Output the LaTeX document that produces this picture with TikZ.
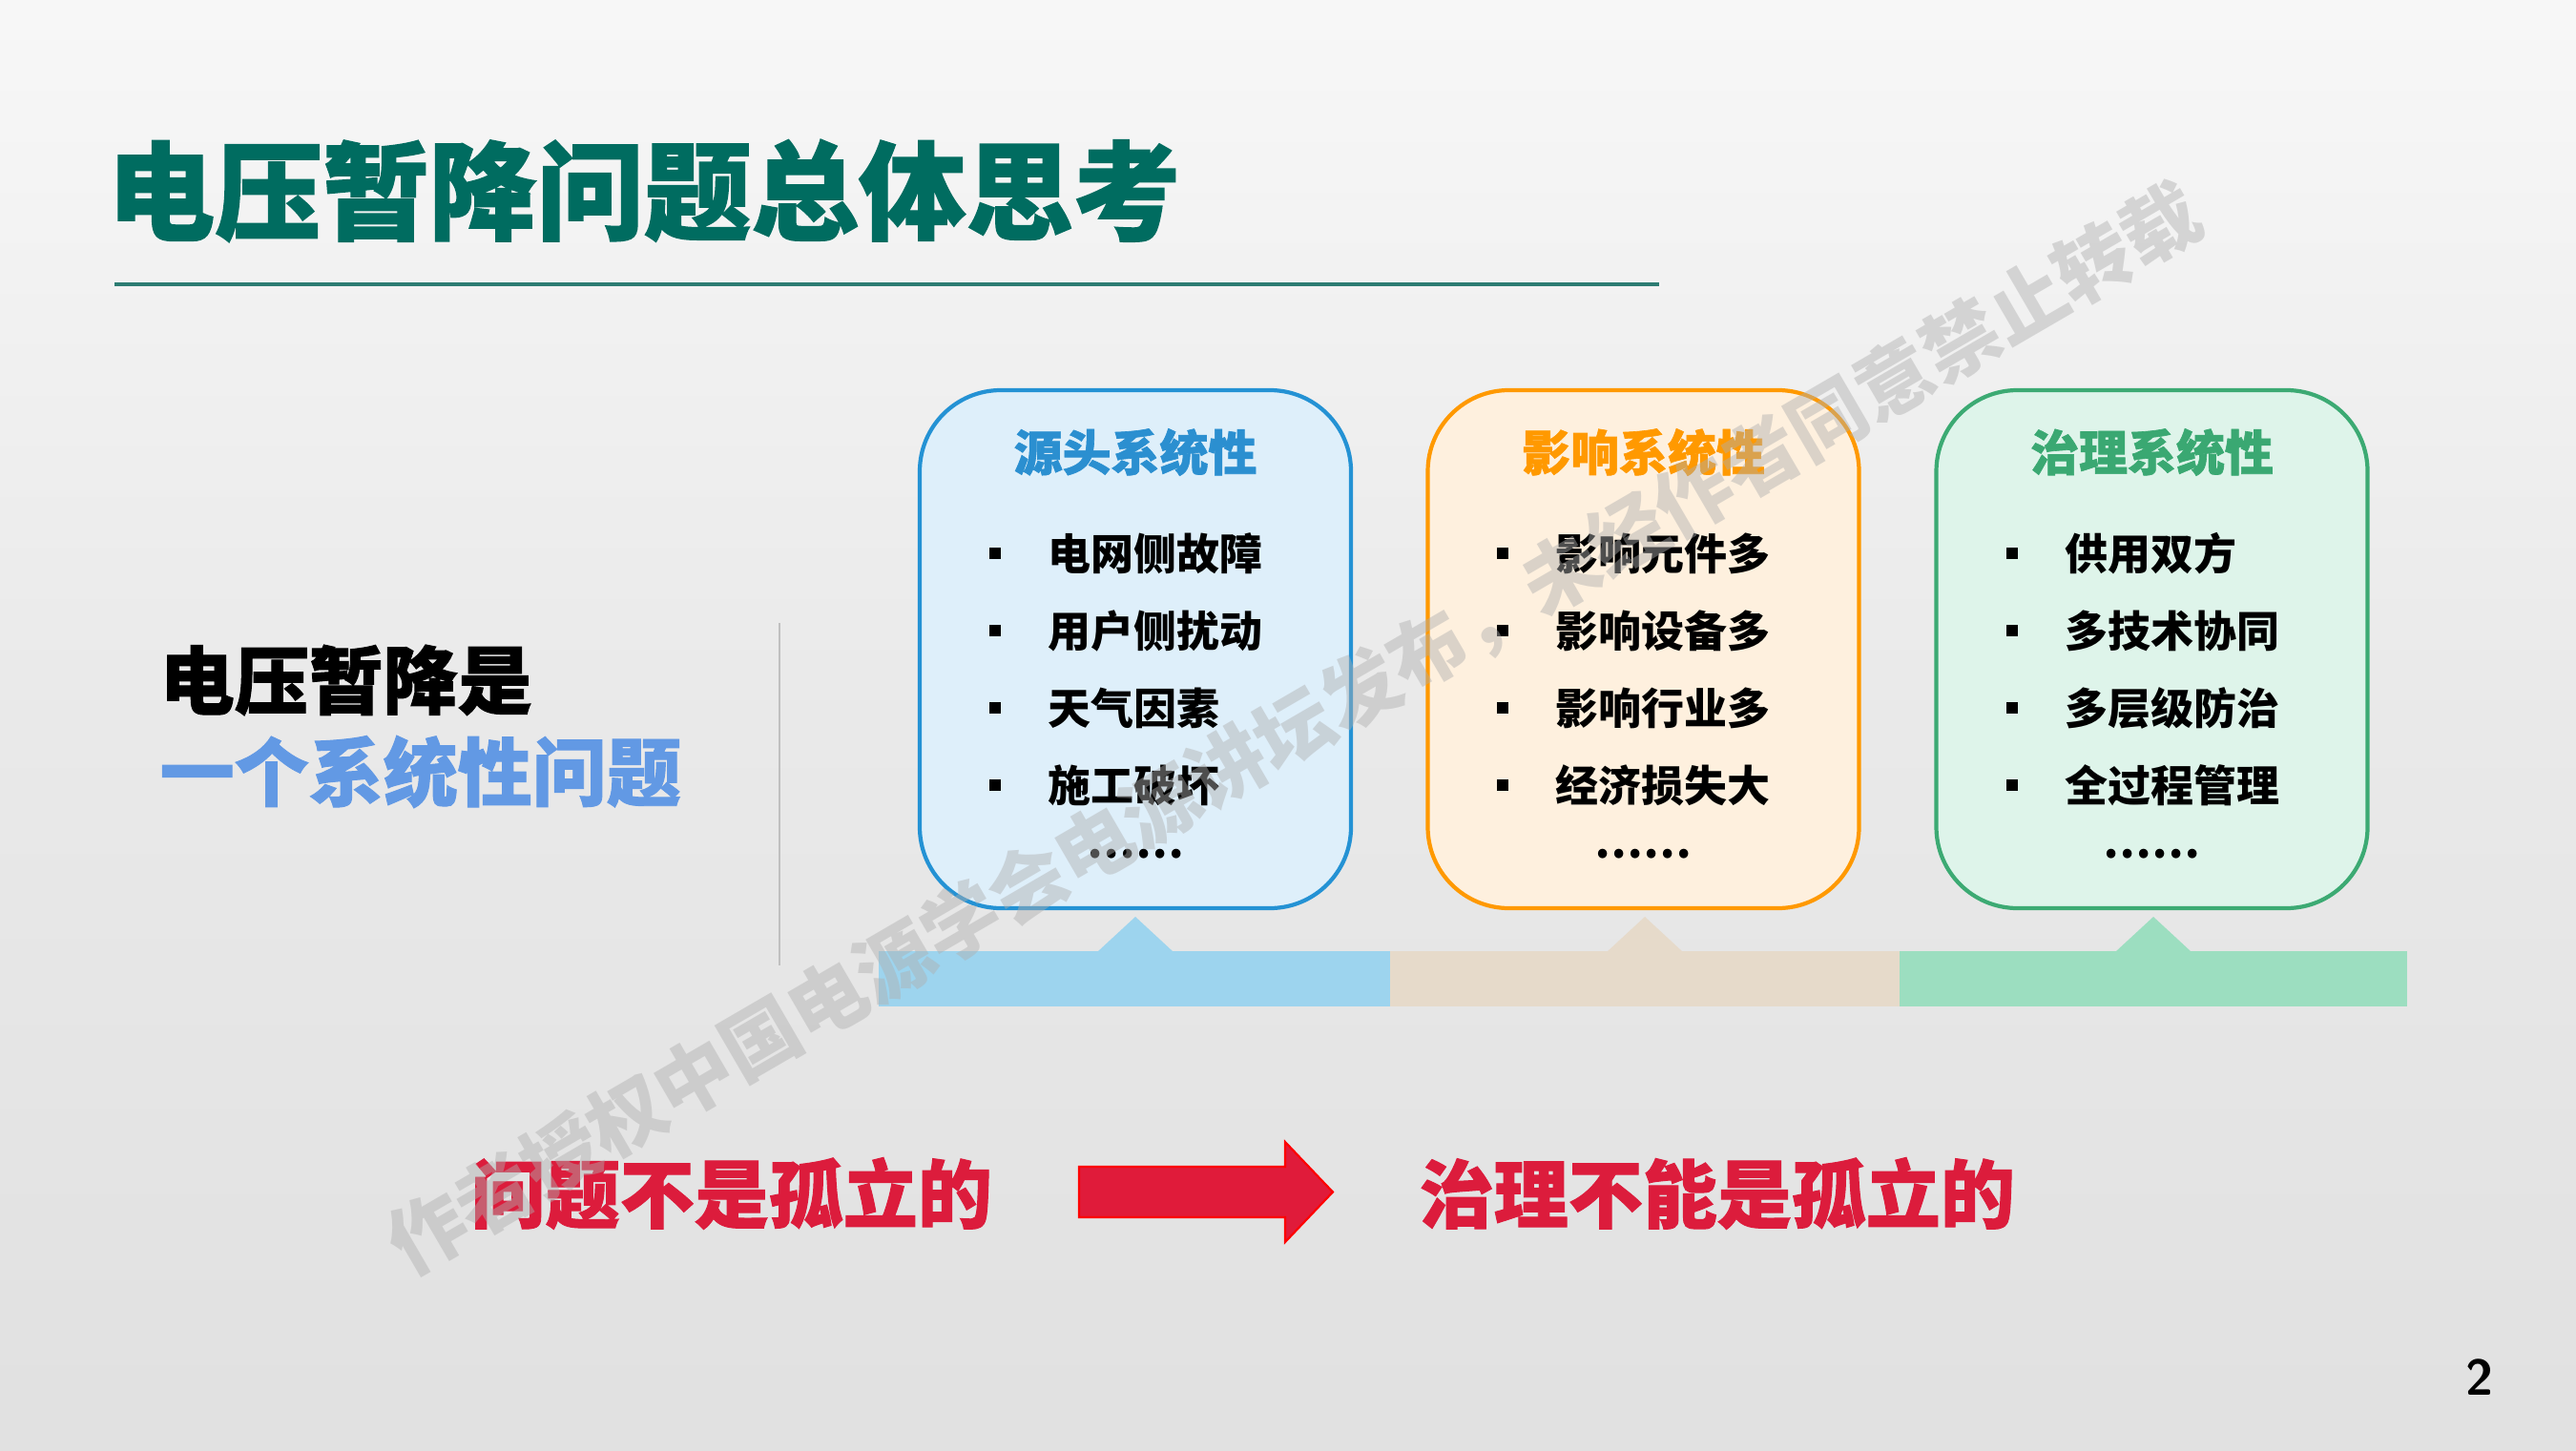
\documentclass[tikz,border=0pt]{standalone}
\usepackage{fontspec}
\newfontfamily\cjk{Noto Sans CJK SC}
\newfontfamily\cjkheavy[FakeBold=1.2]{Noto Sans CJK SC}
\definecolor{bgbot}{RGB}{216,216,216}
\definecolor{bgmid}{RGB}{233,233,233}
\definecolor{bgup}{RGB}{249,249,249}
\definecolor{titlecol}{RGB}{0,108,96}
\definecolor{linecol}{RGB}{44,124,114}
\definecolor{bluetxt}{RGB}{98,153,228}
\definecolor{bBorder}{RGB}{36,146,212}
\definecolor{bFill}{RGB}{222,239,250}
\definecolor{bTitle}{RGB}{43,143,208}
\definecolor{oBorder}{RGB}{255,153,0}
\definecolor{oFill}{RGB}{254,240,222}
\definecolor{oTitle}{RGB}{255,153,0}
\definecolor{gBorder}{RGB}{60,170,115}
\definecolor{gFill}{RGB}{222,244,234}
\definecolor{gTitle}{RGB}{58,168,114}
\definecolor{barB}{RGB}{157,212,238}
\definecolor{barO}{RGB}{230,218,202}
\definecolor{barG}{RGB}{156,222,192}
\definecolor{redtxt}{RGB}{220,28,60}
\definecolor{arrowfill}{RGB}{224,27,58}
\definecolor{vline}{RGB}{192,192,192}
\definecolor{wmark}{RGB}{175,175,175}
\pgfdeclareverticalshading{bgshade}{100bp}{color(0bp)=(bgbot); color(50bp)=(bgmid); color(78bp)=(bgup); color(100bp)=(white)}
\tikzset{
  sysbox/.style={draw=#1, line width=1.2pt, rounded corners=0.85cm,
    minimum width=4.52cm, minimum height=5.43cm, inner sep=0pt},
  boxtitle/.style={font=\cjkheavy\bfseries\fontsize{14.5}{16}\selectfont, text=#1, inner sep=0pt},
  item/.style={anchor=west, font=\cjk\bfseries\fontsize{12.8}{14}\selectfont, inner sep=0pt},
  bigtxt/.style={anchor=west, font=\cjkheavy\bfseries\fontsize{22.2}{24}\selectfont, inner sep=0pt},
  sq/.style={fill=black, minimum size=0.12cm, inner sep=0pt},
}
\begin{document}
\begin{tikzpicture}[x=1cm,y=1cm]
\useasboundingbox (0,0) rectangle (27,15.2);
\shade[shading=bgshade] (0,0) rectangle (27,15.2);

% title
\node[anchor=west, text=titlecol, font=\cjkheavy\bfseries\fontsize{32}{36}\selectfont, inner sep=0pt] (title) at (1.12,13.2) {电压暂降问题总体思考};
\coordinate (tl1) at (1.20,12.22);
\coordinate (tl2) at (17.39,12.22);
\draw[linecol, line width=1.2pt] (tl1) -- (tl2);

% left statement
\node[bigtxt, text=black] (s1) at (1.67,8.07) {电压暂降是};
\node[bigtxt, text=bluetxt] (s2) at (1.67,7.11) {一个系统性问题};
\coordinate (v1) at (8.17,8.67);
\coordinate (v2) at (8.17,5.08);
\draw[vline, line width=0.8pt] (v1) -- (v2);

% bars with pointers
\fill[barB] (9.21,4.65) rectangle (14.57,5.23);
\fill[barO] (14.57,4.65) rectangle (19.91,5.23);
\fill[barG] (19.91,4.65) rectangle (25.23,5.23);
\fill[barB] (11.50,5.22) -- (11.90,5.59) -- (12.30,5.22) -- cycle;
\fill[barO] (16.84,5.22) -- (17.24,5.59) -- (17.64,5.22) -- cycle;
\fill[barG] (22.17,5.22) -- (22.57,5.59) -- (22.97,5.22) -- cycle;

% boxes
\node[sysbox=bBorder, fill=bFill] (b1) at (11.90,8.395) {};
\node[sysbox=oBorder, fill=oFill] (b2) at (17.225,8.395) {};
\node[sysbox=gBorder, fill=gFill] (b3) at (22.555,8.395) {};

\node[boxtitle=bTitle] (t1) at (11.90,10.46) {源头系统性};
\node[boxtitle=oTitle] (t2) at (17.225,10.46) {影响系统性};
\node[boxtitle=gTitle] (t3) at (22.555,10.46) {治理系统性};

% items
\foreach \y/\t [count=\i] in {9.40/电网侧故障, 8.59/用户侧扰动, 7.78/天气因素, 6.97/施工破坏}{
  \node[sq] (q1\i) at (10.43,\y) {};
  \node[item] (a1\i) at (10.98,\y) {\t};
}
\foreach \y/\t [count=\i] in {9.40/影响元件多, 8.59/影响设备多, 7.78/影响行业多, 6.97/经济损失大}{
  \node[sq] (q2\i) at (15.75,\y) {};
  \node[item] (a2\i) at (16.30,\y) {\t};
}
\foreach \y/\t [count=\i] in {9.40/供用双方, 8.59/多技术协同, 7.78/多层级防治, 6.97/全过程管理}{
  \node[sq] (q3\i) at (21.09,\y) {};
  \node[item] (a3\i) at (21.64,\y) {\t};
}
\node[font=\cjk\bfseries\fontsize{12.8}{14}\selectfont, inner sep=0pt] (d1) at (11.90,6.25) {……};
\node[font=\cjk\bfseries\fontsize{12.8}{14}\selectfont, inner sep=0pt] (d2) at (17.225,6.25) {……};
\node[font=\cjk\bfseries\fontsize{12.8}{14}\selectfont, inner sep=0pt] (d3) at (22.555,6.25) {……};

% bottom statement
\node[bigtxt, text=redtxt] (r1) at (4.93,2.69) {问题不是孤立的};
\node[bigtxt, text=redtxt] (r2) at (14.87,2.69) {治理不能是孤立的};
\filldraw[fill=arrowfill, draw=red, line width=0.6pt, line join=miter]
  (11.31,2.44) -- (11.31,2.97) -- (13.47,2.97) -- (13.47,3.23) -- (13.97,2.705)
  -- (13.47,2.18) -- (13.47,2.44) -- cycle;

% page number
\node[font=\sffamily\bfseries\fontsize{15}{16}\selectfont, inner sep=0pt] (pg) at (25.99,0.76) {2};

% watermark
\node[rotate=30.2, text=wmark, opacity=0.45, font=\cjk\bfseries\fontsize{23}{25}\selectfont, inner sep=0pt] (wm) at (13.57,7.55) {作者授权中国电源学会电源讲坛发布，未经作者同意禁止转载};
\end{tikzpicture}
\end{document}
